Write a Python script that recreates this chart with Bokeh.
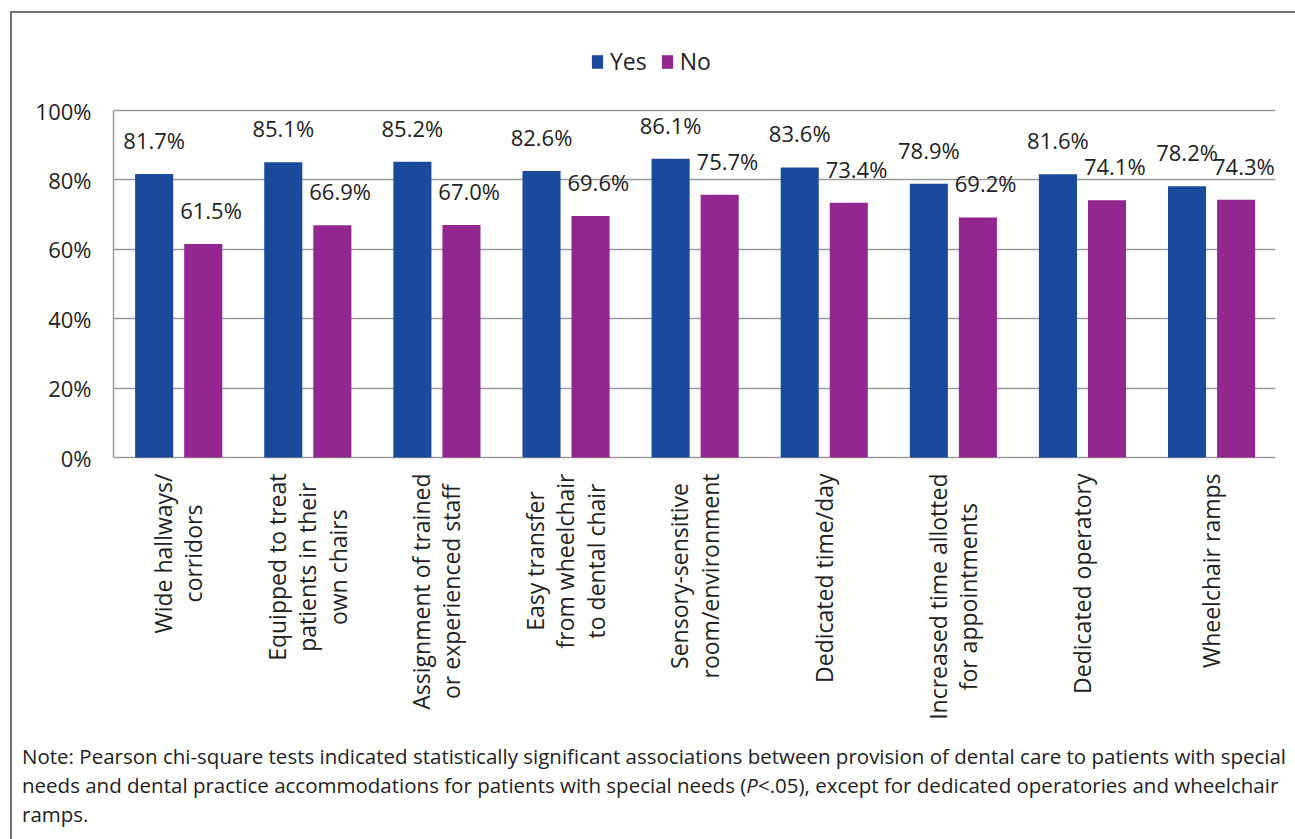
import math
from bokeh.plotting import figure
from bokeh.models import (ColumnDataSource, FactorRange, Legend, LegendItem,
                          FixedTicker, Range1d, Div)
from bokeh.layouts import column
from bokeh.transform import dodge
from bokeh.core.properties import value
from bokeh.embed import file_html
from bokeh.resources import INLINE

categories = [
    "Wide hallways/\ncorridors",
    "Equipped to treat\npatients in their\nown chairs",
    "Assignment of trained\nor experienced staff",
    "Easy transfer\nfrom wheelchair\nto dental chair",
    "Sensory-sensitive\nroom/environment",
    "Dedicated time/day",
    "Increased time allotted\nfor appointments",
    "Dedicated operatory",
    "Wheelchair ramps",
]
yes_vals = [81.7, 85.1, 85.2, 82.6, 86.1, 83.6, 78.9, 81.6, 78.2]
no_vals = [61.5, 66.9, 67.0, 69.6, 75.7, 73.4, 69.2, 74.1, 74.3]
y_ticks = [0, 20, 40, 60, 80, 100]
y_tick_labels = ["0%", "20%", "40%", "60%", "80%", "100%"]
series_names = ["Yes", "No"]
colors = ["#1B4A9C", "#92278F"]

note_html = ("Note: Pearson chi-square tests indicated statistically significant associations "
             "between provision of dental care to patients with special<br>"
             "needs and dental practice accommodations for patients with special needs "
             "(<i>P</i>&lt;.05), except for dedicated operatories and wheelchair<br>"
             "ramps.")

FONT = "Open Sans"
TXT = "#222222"
GRID = "#9a9a9a"

# layout constants (pixels)
FIG_W, FIG_H = 1283, 708
PX_PER_UNIT = 3.47
Y_ZERO_PX = 444          # canvas y of 0%
Y_END = 100 + (Y_ZERO_PX - 100 * PX_PER_UNIT) / PX_PER_UNIT
Y_START = -(FIG_H - Y_ZERO_PX) / PX_PER_UNIT

src = ColumnDataSource(dict(
    cat=categories,
    yes=yes_vals,
    no=no_vals,
    yes_lbl=[f"{v:.1f}%" for v in yes_vals],
    no_lbl=[f"{v:.1f}%" for v in no_vals],
))

p = figure(width=FIG_W, height=FIG_H,
           x_range=FactorRange(factors=categories, range_padding=0),
           y_range=Range1d(Y_START, Y_END), x_axis_type=None,
           output_backend="svg", toolbar_location=None,
           min_border_left=101, min_border_right=20, min_border_top=0, min_border_bottom=0)
p.outline_line_color = None
p.background_fill_color = "white"
p.border_fill_color = "white"

r_yes = p.vbar(x=dodge("cat", -0.185, range=p.x_range), top="yes", width=0.295, source=src,
               fill_color=colors[0], line_color=None)
r_no = p.vbar(x=dodge("cat", 0.195, range=p.x_range), top="no", width=0.295, source=src,
              fill_color=colors[1], line_color=None)

p.text(x=dodge("cat", -0.185, range=p.x_range), y="yes", text="yes_lbl", source=src,
       text_align="center", text_baseline="bottom", y_offset=-19,
       text_font=value(FONT), text_font_size="22px", text_color=TXT)
p.text(x=dodge("cat", 0.255, range=p.x_range), y="no", text="no_lbl", source=src,
       text_align="center", text_baseline="bottom", y_offset=-19,
       text_font=value(FONT), text_font_size="22px", text_color=TXT)

# category labels, rotated, hanging below the 0% line
p.text(x="cat", y=0, text="cat", source=src, angle=math.pi / 2,
       anchor="center_right", text_align="center", y_offset=16,
       text_line_height=0.95,
       text_font=value(FONT), text_font_size="23px", text_color=TXT)

# y axis
p.xgrid.grid_line_color = None
p.ygrid.grid_line_color = GRID
p.ygrid.grid_line_width = 1.5
p.ygrid.ticker = FixedTicker(ticks=y_ticks)
p.yaxis.ticker = FixedTicker(ticks=y_ticks)
p.yaxis.bounds = (0, 100)
p.yaxis.major_label_overrides = {t: l for t, l in zip(y_ticks, y_tick_labels)}
p.yaxis.major_tick_line_color = None
p.yaxis.minor_tick_line_color = None
p.yaxis.major_tick_out = 0
p.yaxis.major_tick_in = 0
p.yaxis.major_label_standoff = 22
p.yaxis.axis_line_color = GRID
p.yaxis.axis_line_width = 1.5
p.yaxis.major_label_text_font = FONT
p.yaxis.major_label_text_font_size = "22px"
p.yaxis.major_label_text_color = TXT

legend = Legend(items=[LegendItem(label=series_names[0], renderers=[r_yes]),
                       LegendItem(label=series_names[1], renderers=[r_no])],
                location=(477, FIG_H - 64), orientation="horizontal",
                glyph_width=14, glyph_height=17, label_height=20, label_standoff=6,
                spacing=13, padding=0, margin=0,
                label_text_font=FONT, label_text_font_size="23px", label_text_color=TXT,
                background_fill_alpha=0, border_line_color=None)
p.add_layout(legend, "center")

note = Div(text=note_html, width=FIG_W, height=839 - 13 - FIG_H,
           styles={"font-family": "'Open Sans'", "font-size": "20.5px", "line-height": "29px",
                   "color": TXT, "white-space": "nowrap", "padding-top": "16px",
                   "padding-left": "5px", "box-sizing": "border-box"})

layout = column(p, note, spacing=0, margin=(11, 0, 0, 10),
                styles={"border-left": "2px solid #707070", "border-top": "2px solid #707070",
                        "background-color": "white"})

open("out.html", "w").write(file_html(layout, INLINE))
